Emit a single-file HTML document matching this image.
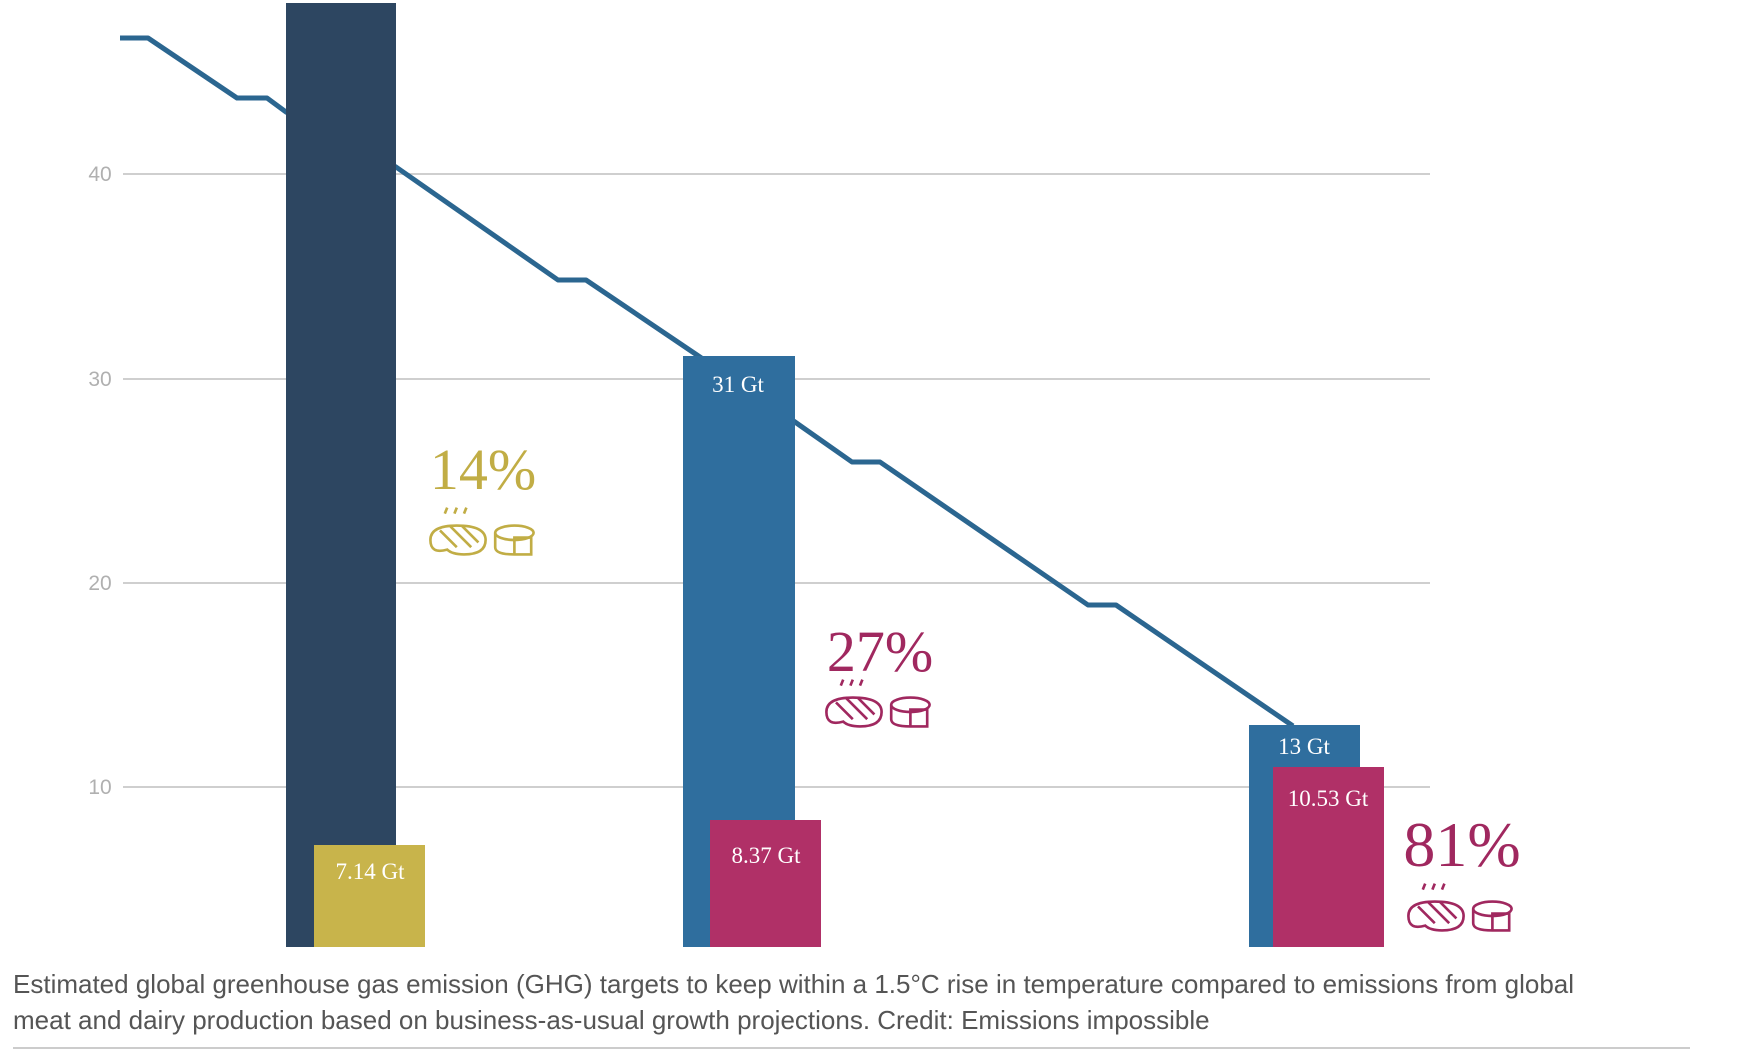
<!DOCTYPE html>
<html><head><meta charset="utf-8"><style>
html,body{margin:0;padding:0;background:#fff;width:1740px;height:1054px;overflow:hidden}
</style></head><body>
<svg width="1740" height="1054" xmlns="http://www.w3.org/2000/svg" style="position:absolute;left:0;top:0">
<g stroke="#cfcfcf" stroke-width="2">
<line x1="123" y1="174" x2="1430" y2="174"/>
<line x1="123" y1="379" x2="1430" y2="379"/>
<line x1="123" y1="583" x2="1430" y2="583"/>
<line x1="123" y1="787" x2="1430" y2="787"/>
</g>
<g font-family="Liberation Sans, sans-serif" font-size="21" fill="#b0b0b0" text-anchor="middle">
<text x="100" y="181">40</text><text x="100" y="386">30</text><text x="100" y="590">20</text><text x="100" y="794">10</text>
</g>
<polyline fill="none" stroke="#2b6690" stroke-width="5" stroke-linejoin="round" points="120,38 148,38 237,98 267,98 286,112 396,167 558,280 586,280 697,355 795,422 852,462 880,462 1088,605 1116,605 1293,726"/>
<rect x="286" y="3" width="110" height="944" fill="#2d4661"/>
<rect x="314" y="845" width="111" height="102" fill="#c8b44b"/>
<rect x="683" y="356" width="112" height="591" fill="#2f6e9e"/>
<rect x="710" y="820" width="111" height="127" fill="#b03067"/>
<rect x="1249" y="725" width="111" height="222" fill="#2f6e9e"/>
<rect x="1273" y="767" width="111" height="180" fill="#b03067"/>
<g font-family="Liberation Serif, serif" font-size="23" fill="#fff" text-anchor="middle">
<text x="738" y="392">31 Gt</text>
<text x="1304" y="754">13 Gt</text>
<text x="1328" y="806">10.53 Gt</text>
<text x="766" y="863">8.37 Gt</text>
<text x="370" y="879">7.14 Gt</text>
</g>
<g font-family="Liberation Serif, serif" text-anchor="middle">
<text x="483" y="489" font-size="58" fill="#c1ad45">14%</text>
<text x="880" y="671" font-size="58" fill="#a0285f">27%</text>
<text x="1462" y="866" font-size="64" fill="#a0285f">81%</text>
</g>
<defs>
<g id="ic" fill="none" stroke-width="2.2" transform="scale(1.2)">
<path d="M-48,0 q0,-12 22,-12 q24,0 24,12 q0,12 -18,12 q-10,0 -14,-4 q-14,4 -14,-8z"/>
<path d="M-40,-8 l14,14 M-32,-12 l18,18 M-22,-12 l14,14"/>
<path d="M-36,-22 l2,-5 M-28,-22 l2,-5 M-20,-22 l2,-5"/>
<ellipse cx="22" cy="-6" rx="16" ry="6"/>
<path d="M6,-6 v12 q0,6 16,6 M22,2 v10 h14 v-14 h-14z"/>
</g>
</defs>
<use href="#ic" x="488" y="540" stroke="#c1ad45"/>
<use href="#ic" x="884" y="712" stroke="#a0285f"/>
<use href="#ic" x="1466" y="916" stroke="#a0285f"/>
<g font-family="Liberation Sans, sans-serif" font-size="26" fill="#555">
<text x="13" y="993">Estimated global greenhouse gas emission (GHG) targets to keep within a 1.5°C rise in temperature compared to emissions from global</text>
<text x="13" y="1029">meat and dairy production based on business-as-usual growth projections. Credit: Emissions impossible</text>
</g>
<line x1="13" y1="1048" x2="1690" y2="1048" stroke="#cccccc" stroke-width="2"/>
</svg>
</body></html>
